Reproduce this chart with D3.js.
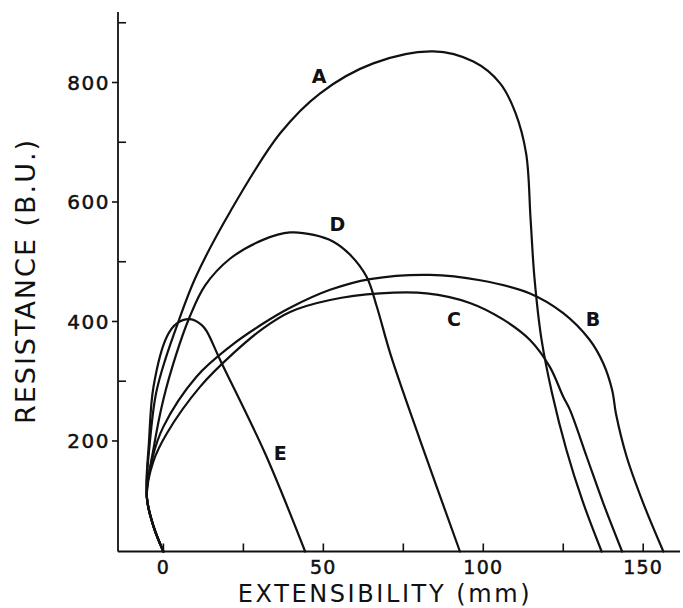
<!DOCTYPE html>
<html>
<head>
<meta charset="utf-8">
<script src="https://cdn.jsdelivr.net/npm/d3@7"></script>
<style>
  html, body { margin: 0; padding: 0; background: #fff; }
  svg { display: block; }
</style>
</head>
<body>
<script>
// ---- data (extensibility mm, resistance B.U.) ----
const curveA = [[0,15],[-3.1,57],[-5.2,107],[-4.2,200],[-2.3,280],[0.5,335],[4.5,397],[9.9,472],[21,585],[36.5,715],[49,782],[65.6,832],[84.4,852],[96.9,835],[105.2,799],[110,750],[113.4,681],[114.8,570],[116,473],[118.2,370],[121.5,280],[126,185],[131,100],[137,15]];
const curveB = [[0,15],[-3.1,57],[-5.2,107],[-3.5,170],[0,224],[10.4,308],[20.8,358],[31.3,397],[39.6,423],[52.1,453],[64.6,471],[83.3,478],[99,469],[114.6,447],[125,414],[133.3,369],[137.5,330],[140.3,285],[141.5,245],[144.8,174],[150,96],[156.3,15]];
const curveC = [[0,15],[-3.1,57],[-5.2,107],[-3.2,165],[1.1,213],[11.5,291],[21.9,347],[31.3,389],[39.6,416],[52.1,436],[67.7,447],[82.3,447],[95.8,431],[106.3,403],[114.6,369],[120.8,324],[125,274],[127.1,252],[132.3,174],[137.5,96],[143.4,15]];
const curveD = [[0,15],[-3.1,57],[-5.2,107],[-3,190],[0,270],[4,345],[8,405],[13,460],[20.8,505],[31.3,537],[39.6,549],[47,545],[53,534],[58.3,512],[63.6,474],[66.7,425],[71,345],[80.2,202],[92.7,15]];
const curveE = [[0,15],[-3.1,57],[-5.2,107],[-4.5,200],[-3.1,291],[1.1,375],[4.2,397],[8.3,404],[12,394],[13.6,383],[17.7,336],[31.8,179],[44.3,15]];
const curveNames = ["A","B","C","D","E"];
const labelPos = [[48.7,799],[134.3,392],[90.8,392],[54.4,551],[36.5,168]];
const yMajorTicks = [200,400,600,800];
const yMinorTicks = [300,500,700,900];
const xTicks = [0,25,50,75,100,125,150];
const xTickLabels = [0,50,100,150];
const xTitle = "EXTENSIBILITY  (mm)";
const yTitle = "RESISTANCE  (B.U.)";

// ---- drawing ----
const W = 683, H = 608;
const svg = d3.select("body").append("svg").attr("width", W).attr("height", H);

const x = d3.scaleLinear().domain([-14.2, 161.5]).range([118, 680]);
const y = d3.scaleLinear().domain([15, 918]).range([551.5, 12]);

const ink = "#111";
const g = svg.append("g");

// axis lines
g.append("line").attr("x1", x(-14.2)).attr("x2", x(-14.2))
  .attr("y1", y(15)).attr("y2", y(918))
  .attr("stroke", ink).attr("stroke-width", 1.8);
g.append("line").attr("x1", x(-14.2)).attr("x2", x(161.5))
  .attr("y1", y(15)).attr("y2", y(15))
  .attr("stroke", ink).attr("stroke-width", 1.8);

// y major ticks (outward) + labels
const y0 = x(-14.2);
g.selectAll(".ymaj").data(yMajorTicks).enter().append("line")
  .attr("x1", y0 - 6).attr("x2", y0).attr("y1", d => y(d)).attr("y2", d => y(d))
  .attr("stroke", ink).attr("stroke-width", 1.6);
g.selectAll(".ylab").data(yMajorTicks).enter().append("text")
  .attr("x", y0 - 8).attr("y", d => y(d)).attr("dy", "0.36em")
  .attr("text-anchor", "end")
  .attr("font-family", "DejaVu Sans, sans-serif").attr("font-size", 20)
  .attr("letter-spacing", 1.5)
  .attr("fill", ink).attr("stroke", ink).attr("stroke-width", 0.5)
  .text(d => d);
// y minor ticks (inward)
g.selectAll(".ymin").data(yMinorTicks).enter().append("line")
  .attr("x1", y0).attr("x2", y0 + 8).attr("y1", d => y(d)).attr("y2", d => y(d))
  .attr("stroke", ink).attr("stroke-width", 1.6);

// x ticks (inward)
const xb = y(15);
g.selectAll(".xt").data(xTicks).enter().append("line")
  .attr("x1", d => x(d)).attr("x2", d => x(d)).attr("y1", xb).attr("y2", xb - 8)
  .attr("stroke", ink).attr("stroke-width", 1.6);
g.selectAll(".xlab").data(xTickLabels).enter().append("text")
  .attr("x", d => x(d)).attr("y", 574)
  .attr("text-anchor", "middle")
  .attr("font-family", "DejaVu Sans, sans-serif").attr("font-size", 19)
  .attr("letter-spacing", 1.2)
  .attr("fill", ink).attr("stroke", ink).attr("stroke-width", 0.5)
  .text(d => d);

// axis titles
svg.append("text").attr("x", 385).attr("y", 602)
  .attr("text-anchor", "middle")
  .attr("font-family", "DejaVu Sans, sans-serif").attr("font-size", 24)
  .attr("letter-spacing", 2.6)
  .attr("fill", ink)
  .text(xTitle);
svg.append("text")
  .attr("transform", "translate(35,281) rotate(-90)")
  .attr("text-anchor", "middle")
  .attr("font-family", "DejaVu Sans, sans-serif").attr("font-size", 27)
  .attr("letter-spacing", 2.0)
  .attr("fill", ink)
  .text(yTitle);

// curves
const line = d3.line().x(d => x(d[0])).y(d => y(d[1])).curve(d3.curveCatmullRom.alpha(0.5));
const curves = [curveA, curveB, curveC, curveD, curveE];
svg.append("g").selectAll("path").data(curves).enter().append("path")
  .attr("d", line)
  .attr("fill", "none").attr("stroke", ink).attr("stroke-width", 2.2)
  .attr("stroke-linejoin", "round").attr("stroke-linecap", "round");

// curve labels
svg.append("g").selectAll("text").data(curveNames).enter().append("text")
  .attr("x", (d, i) => x(labelPos[i][0])).attr("y", (d, i) => y(labelPos[i][1]))
  .attr("text-anchor", "middle")
  .attr("font-family", "DejaVu Sans, sans-serif").attr("font-weight", "bold")
  .attr("font-size", 19).attr("fill", ink)
  .text(d => d);
</script>
</body>
</html>
